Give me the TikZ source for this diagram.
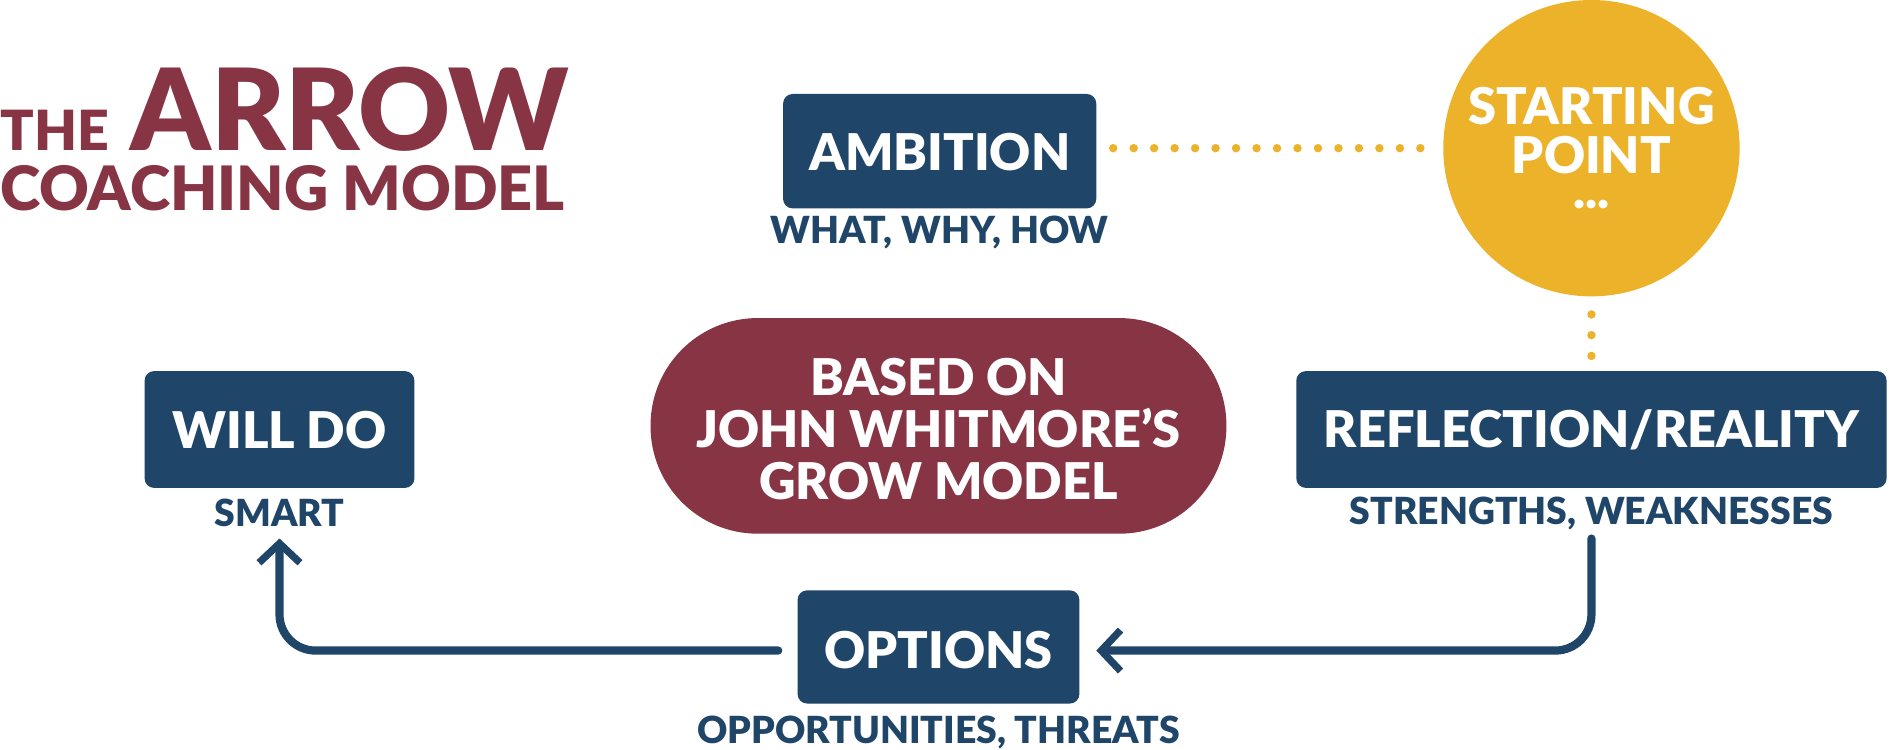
\documentclass[tikz,border=0pt]{standalone}
\usepackage{fontspec}
\setmainfont{Lato Black}
\usetikzlibrary{arrows.meta}
\definecolor{navy}{HTML}{1F4569}
\definecolor{maroon}{HTML}{873444}
\definecolor{gold}{HTML}{EBB22A}
\begin{document}
\begin{tikzpicture}[x=0.5pt,y=-0.5pt,
  box/.style={fill=navy,rounded corners=4pt,text=white,font=\fontsize{21}{24}\selectfont},
  sub/.style={text=navy,font=\fontsize{15.5}{17}\selectfont},
  conn/.style={draw=navy,line width=3.4pt,line cap=round,rounded corners=15pt,-{Straight Barb[length=8pt,width=17pt,line width=3pt]}},
  dots/.style={draw=gold,line width=3.5pt,line cap=round,dash pattern=on 0pt off 8.5pt}]
\useasboundingbox (0,0) rectangle (1568,622);
\node[anchor=base west,text=maroon,font=\fontsize{23}{24}\selectfont,inner sep=0] (the) at (0,125) {THE};
\node[anchor=base west,text=maroon,font=\fontsize{47}{50}\selectfont,inner sep=0] (arrow) at (108,125) {ARROW};
\node[anchor=base west,text=maroon,font=\fontsize{25.4}{26}\selectfont,inner sep=0] (coach) at (0,175) {COACHING MODEL};
% boxes
\path[box] (650,78) rectangle (910,173);
\node[text=white,font=\fontsize{21}{24}\selectfont] (amb) at (780,126) {AMBITION};
\node[sub] (ambs) at (780,193) {WHAT, WHY, HOW};
\path[box] (120,308) rectangle (344,405);
\node[text=white,font=\fontsize{21}{24}\selectfont] (will) at (232,357) {WILL DO};
\node[sub] (wills) at (232,426) {SMART};
\path[box] (1076,308) rectangle (1566,405);
\node[text=white,font=\fontsize{21}{24}\selectfont] (refl) at (1321,357) {REFLECTION/REALITY};
\node[sub] (refls) at (1321,426) {STRENGTHS, WEAKNESSES};
\path[box] (662,490) rectangle (896,584);
\node[text=white,font=\fontsize{21}{24}\selectfont] (opt) at (779,540) {OPTIONS};
\node[sub] (opts) at (779,608) {OPPORTUNITIES, THREATS};
% pill
\path[fill=maroon,rounded corners=44.5pt] (540,264) rectangle (1018,443);
\node[text=white,align=center,font=\fontsize{21}{21.5}\selectfont] (grow) at (779,356) {BASED ON\\JOHN WHITMORE\symbol{39}S\\GROW MODEL};
% circle
\fill[gold] (1321,123) circle[radius=123];
\node[text=white,align=center,font=\fontsize{21}{20.5}\selectfont] (start) at (1321,123) {STARTING\\POINT\\[-6pt]...};
\coordinate (d1) at (924,123); \coordinate (d2) at (1187,123);
\draw[dots] (d1) -- (d2);
\coordinate (d3) at (1321,261); \coordinate (d4) at (1321,296);
\draw[dots,dash pattern=on 0pt off 8.6pt] (d3) -- (d4);
% connectors
\coordinate (a1) at (1321,447); \coordinate (a2) at (1321,540); \coordinate (a3) at (910,540);
\draw[conn] (a1) -- (a2) -- (a3);
\coordinate (b1) at (646,540); \coordinate (b2) at (232,540); \coordinate (b3) at (232,447);
\draw[conn] (b1) -- (b2) -- (b3);
\end{tikzpicture}
\end{document}
